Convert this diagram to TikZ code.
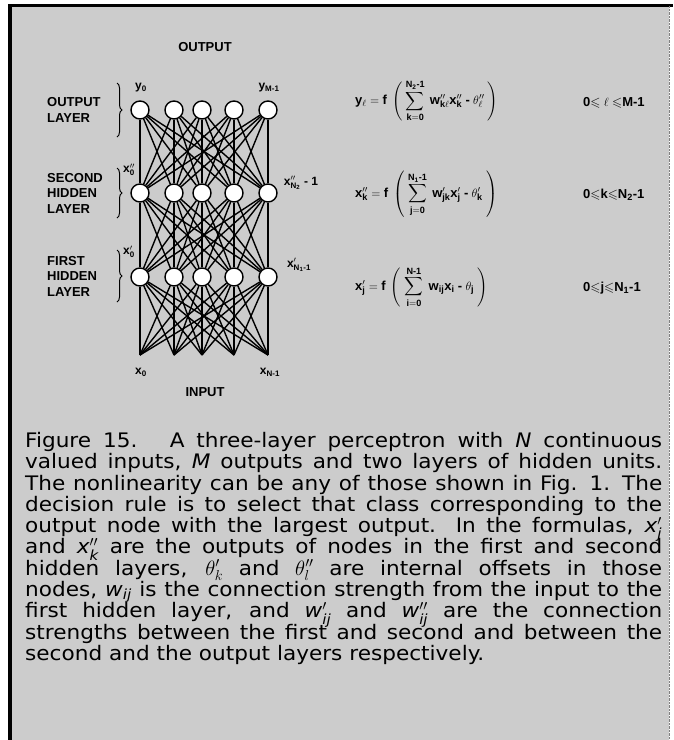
\documentclass[tikz,border=0pt]{standalone}
\usepackage{amsmath,amssymb}
\usepackage{fontspec}
\setmainfont{Liberation Sans}
\newfontfamily\capfont[FakeStretch=1.08]{DejaVu Sans}
\usetikzlibrary{decorations.pathreplacing}
\newcommand{\sv}[1]{\mathbf{#1}}
\newcommand{\ti}[1]{\text{\itshape #1}}
\newcommand{\capline}[1]{\makebox[637pt][s]{#1}}
\definecolor{scan}{gray}{0.80}

\begin{document}
\begin{tikzpicture}[x=1pt,y=-1pt,
  unit/.style={circle,draw,fill=white,line width=1.4pt,minimum size=18pt,inner sep=0pt},
  link/.style={line width=1.4pt},
  layer/.style={font=\fontsize{13}{15.5}\selectfont\bfseries,align=left,anchor=west,inner sep=0pt},
  tag/.style={font=\fontsize{12}{14}\selectfont\bfseries,inner sep=0pt},
  eqn/.style={font=\fontsize{13}{15}\selectfont\bfseries,inner sep=0pt,anchor=west},
  lbrace/.style={decorate,decoration={brace,amplitude=5pt},line width=1pt}]
  \useasboundingbox (0,0) rectangle (673,740);
  % scanned page and its frame
  \fill[scan] (10,6) rectangle (669,740);
  \draw[line width=4pt] (10,4) -- (10,740);
  \draw[line width=3pt] (8,5.5) -- (673,5.5);
  \draw[gray,densely dotted] (669,6) -- (669,740);

  % units of the three layers
  \foreach \x [count=\i from 0] in {140,174,202,234,268} {
    \coordinate (in\i) at (\x,355);
    \node[unit] (h\i) at (\x,277) {};
    \node[unit] (g\i) at (\x,193) {};
    \node[unit] (o\i) at (\x,110) {};
  }
  \foreach \i in {0,...,4}
    \foreach \j in {0,...,4} {
      \draw[link] (in\i) -- (h\j);
      \draw[link] (h\i) -- (g\j);
      \draw[link] (g\i) -- (o\j);
    }

  \node[layer,anchor=center] (outp) at (205,47) {OUTPUT};
  \node[layer,anchor=center] (inp) at (205,392) {INPUT};

  \node[layer] (outl) at (47,110) {OUTPUT\\LAYER};
  \node[layer] (secl) at (47,193) {SECOND\\HIDDEN\\LAYER};
  \node[layer] (firl) at (47,276) {FIRST\\HIDDEN\\LAYER};
  \draw[lbrace] (117,83) -- (117,137);
  \draw[lbrace] (117,168) -- (117,218);
  \draw[lbrace] (117,250) -- (117,302);

  \node[tag] (y0) at (141,88) {$\sv{y_0}$};
  \node[tag] (yM) at (269,88) {$\sv{y_{M\text{-}1}}$};
  \node[tag] (g0) at (129,170) {$\sv{x}''_{\sv{0}}$};
  \node[tag] (gN) at (301,183) {$\sv{x}''_{\sv{N_2}}$ - 1};
  \node[tag] (h0) at (129,252) {$\sv{x}'_{\sv{0}}$};
  \node[tag] (hN) at (299,265) {$\sv{x}'_{\sv{N_1\text{-}1}}$};
  \node[tag] (x0) at (141,372) {$\sv{x_0}$};
  \node[tag] (xN) at (270,372) {$\sv{x_{N\text{-}1}}$};

  % unit equations
  \node[eqn] (eqo) at (355,101) {$\displaystyle\sv{y}_{\ell}\;\sv{=}\;\sv{f}\;\left(\;\sum_{\sv{k=0}}^{\sv{N_2\text{-}1}}\;\sv{w}''_{\sv{k}\ell}\sv{x}''_{\sv{k}}\;\text{-}\;\theta''_{\ell}\;\right)$};
  \node[eqn] (eqg) at (355,194) {$\displaystyle\sv{x}''_{\sv{k}}\;\sv{=}\;\sv{f}\;\left(\;\sum_{\sv{j=0}}^{\sv{N_1\text{-}1}}\;\sv{w}'_{\sv{jk}}\sv{x}'_{\sv{j}}\;\text{-}\;\theta'_{\sv{k}}\;\right)$};
  \node[eqn] (eqh) at (355,287) {$\displaystyle\sv{x}'_{\sv{j}}\;\sv{=}\;\sv{f}\;\left(\;\sum_{\sv{i=0}}^{\sv{N\text{-}1}}\;\sv{w}_{\sv{ij}}\sv{x}_{\sv{i}}\;\text{-}\;\theta_{\sv{j}}\;\right)$};
  \node[eqn] (rgo) at (583,103) {0$\leqslant\ell\leqslant$M-1};
  \node[eqn] (rgg) at (583,195) {0$\leqslant$k$\leqslant$N\textsubscript{2}-1};
  \node[eqn] (rgh) at (583,288) {0$\leqslant$j$\leqslant$N\textsubscript{1}-1};

  \node[anchor=north west,inner sep=0pt,text width=637pt,align=left,
    font=\capfont\fontsize{20}{21.3}\selectfont] (cap) at (25,432) {%
    \lineskiplimit=-20pt\spaceskip=0pt\xspaceskip=0pt\relax
    \capline{Figure 15.\hspace{0.4em} A three-layer perceptron with \textit{N} continuous}\\
    \capline{valued inputs, \textit{M} outputs and two layers of hidden units.}\\
    \capline{The nonlinearity can be any of those shown in Fig. 1. The}\\
    \capline{decision rule is to select that class corresponding to the}\\
    \capline{output node with the largest output. In the formulas, $\ti{x}'_{\ti{j}}$}\\
    \capline{and $\ti{x}''_{\ti{k}}$ are the outputs of nodes in the first and second}\\
    \capline{hidden layers, $\theta'_{k}$ and $\theta''_{l}$ are internal offsets in those}\\
    \capline{nodes, $\ti{w}_{\ti{ij}}$ is the connection strength from the input to the}\\
    \capline{first hidden layer, and $\ti{w}'_{\ti{ij}}$ and $\ti{w}''_{\ti{ij}}$ are the connection}\\
    \capline{strengths between the first and second and between the}\\
    second and the output layers respectively.};
\end{tikzpicture}
\end{document}
